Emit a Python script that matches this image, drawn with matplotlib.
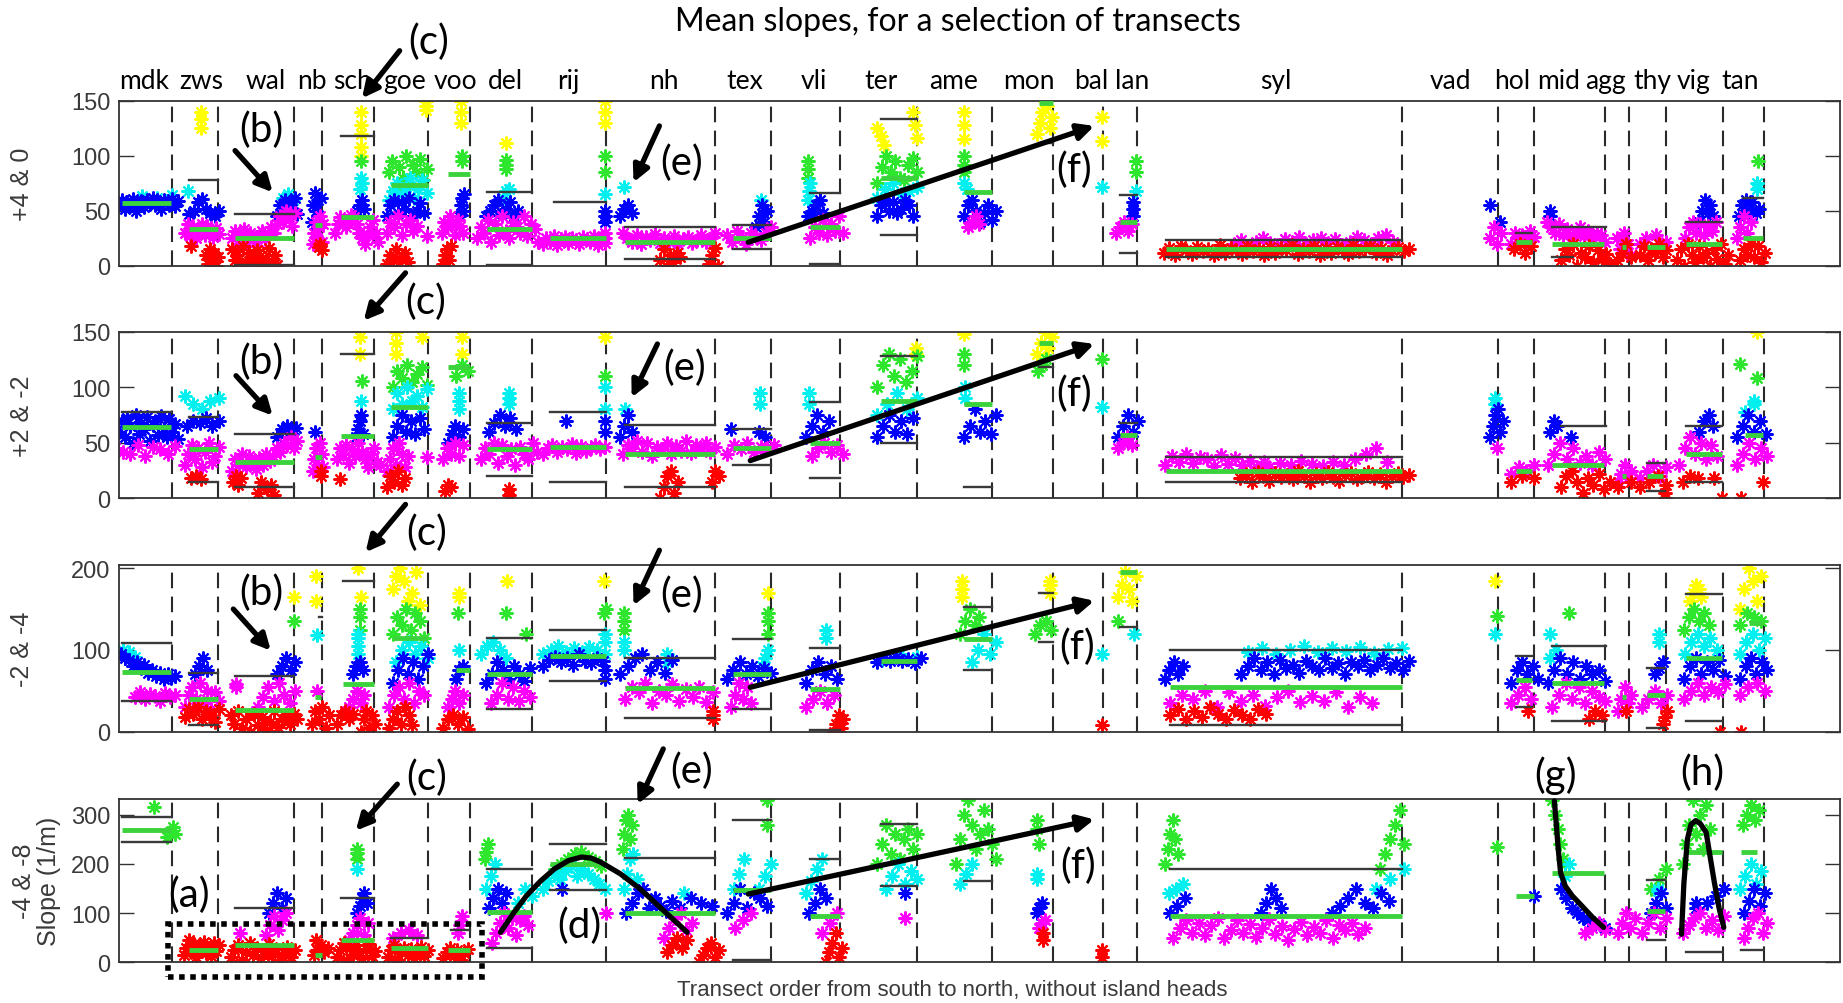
import numpy as np
import matplotlib
matplotlib.use("Agg")
import matplotlib.pyplot as plt
from matplotlib.patches import FancyArrowPatch, Rectangle
from matplotlib.transforms import blended_transform_factory

# ---------------- data ----------------
REGIONS = ['mdk', 'zws', 'wal', 'nb', 'sch', 'goe', 'voo', 'del', 'rij', 'nh', 'tex', 'vli', 'ter',
           'ame', 'mon', 'bal', 'lan', 'syl', 'vad', 'hol', 'mid', 'agg', 'thy', 'vig', 'tan']
REGION_LABEL_T = [21, 70, 125, 164, 199, 243, 287, 329, 383, 464, 533, 592, 649,
                  711, 775, 828, 863, 985, 1134, 1187, 1226, 1266, 1306, 1341, 1381]
BOUNDARIES = [45, 84, 149, 173, 217, 263, 299, 352, 415, 508, 555, 614, 680, 744, 796, 838, 867,
              1093, 1175, 1205, 1266, 1286, 1318, 1366, 1401]
N_TRANSECTS = 1466
PANEL_LABELS = ['+4 & 0', '+2 & -2', '-2 & -4', '-4 & -8']
YMAX = [150, 150, 204, 332]
YTICKS = [[0, 50, 100, 150], [0, 50, 100, 150], [0, 100, 200], [0, 100, 200, 300]]

# (colour, first transect, last transect, slope values)
P1_POINTS = [
    ('c', 20, 45, [63, 62, 64]),
    ('b', 0, 50, [55, 60, 52, 58, 54, 61, 50, 57, 59, 53, 60, 56, 62, 55, 58, 52, 60, 57, 55, 61, 54, 59]),
    ('y', 70, 70, [140, 133, 125]),
    ('c', 59, 59, [68]),
    ('b', 60, 85, [47, 50, 58, 61, 52, 48, 45, 50]),
    ('m', 56, 85, [30, 38, 27, 35, 25, 33, 38, 28, 36, 30, 26, 34, 29]),
    ('r', 61, 61, [18]),
    ('r', 74, 84, [10, 2, 15, 5, 12, 0, 8]),
    ('m', 96, 150, [25, 32, 20, 28, 33, 22, 30, 25, 18, 27, 32, 24, 29, 35, 30, 38, 45, 40, 50, 44, 36, 48]),
    ('r', 96, 135, [15, 5, 10, 0, 18, 3, 12, 7, 2, 14, 9, 0, 6, 16, 3, 10, 1]),
    ('b', 135, 152, [45, 55, 50, 60, 48, 58, 52, 62, 47]),
    ('c', 140, 148, [62, 65, 60]),
    ('b', 164, 172, [40, 55, 66, 50, 60, 45, 62]),
    ('m', 165, 174, [20, 30, 40, 25, 35, 45, 22, 38]),
    ('r', 170, 173, [17, 20, 14]),
    ('m', 184, 221, [30, 38, 44, 40, 35, 42, 46, 44, 38, 30, 25, 20, 28, 35, 42, 30, 22]),
    ('b', 203, 209, [50, 55, 60, 52]),
    ('c', 205, 207, [70, 80, 75]),
    ('g', 206, 206, [95]),
    ('y', 206, 206, [140, 128, 120, 108, 100]),
    ('g', 230, 262, [85, 95, 70, 90, 80, 100, 75, 92, 85, 97, 78, 88]),
    ('c', 230, 262, [60, 68, 75, 65, 72, 80, 62, 70, 78, 66]),
    ('b', 228, 260, [45, 55, 60, 48, 58, 52, 62, 45, 50, 57, 48]),
    ('m', 228, 254, [30, 40, 35, 45, 28, 38, 42, 32, 36]),
    ('r', 228, 246, [2, 10, 5, 15, 0, 8, 12, 3]),
    ('y', 261.6, 261.6, [150, 145, 142]),
    ('m', 262.6, 262.6, [27]),
    ('m', 275, 293, [30, 40, 35, 45, 38, 28, 42, 36, 30]),
    ('r', 276, 283, [2, 10, 15, 5, 18]),
    ('b', 290, 294, [45, 55, 62, 50, 65]),
    ('g', 292, 292, [95, 100]),
    ('y', 291, 291, [150, 140, 130]),
    ('m', 305, 357, [25, 35, 30, 42, 22, 38, 28, 45, 32, 25, 40, 35, 30, 45, 27, 38, 33, 22]),
    ('b', 313, 340, [45, 50, 55, 60, 48, 52, 58, 45, 50]),
    ('c', 327, 332, [62, 68, 70]),
    ('g', 330, 330, [88, 92, 96]),
    ('y', 330, 330, [112]),
    ('m', 361, 414, [20, 25, 22, 27, 19, 24, 26, 21, 25, 23, 20, 26, 24, 22, 27, 19, 25, 21]),
    ('y', 414, 414, [150, 140, 130]),
    ('g', 414, 414, [100, 85]),
    ('c', 414, 414, [65]),
    ('b', 414, 414, [50, 40, 45]),
    ('m', 414, 414, [25, 30]),
    ('c', 430, 430, [72]),
    ('b', 427, 437, [45, 52, 55, 48]),
    ('m', 429, 508, [30, 25, 22, 28, 20, 26, 23, 29, 21, 25, 22, 27, 20, 24, 26, 21, 23, 28, 22, 25, 30]),
    ('r', 461, 478, [5, 15, 0, 10, 3, 12, 8]),
    ('r', 503, 510, [2, 10, 16, 0]),
    ('m', 518, 555, [28, 22, 32, 25, 20, 30, 26, 23, 30, 35]),
    ('b', 543, 552, [35, 45, 55, 40, 50]),
    ('c', 547, 547, [60]),
    ('g', 587, 587, [80, 88, 95]),
    ('c', 587, 589, [60, 68, 75]),
    ('b', 587, 600, [45, 50, 55, 60, 48]),
    ('m', 589, 617, [25, 35, 30, 42, 28, 38, 32, 45, 30]),
    ('y', 646, 652, [125, 118, 110]),
    ('y', 676, 680, [140, 128, 116]),
    ('g', 646, 680, [75, 90, 100, 85, 95, 80, 78, 92, 98, 85]),
    ('c', 646, 680, [62, 70, 75, 65, 68, 72]),
    ('b', 646, 676, [45, 55, 60, 50, 58, 48, 52, 60, 55, 45]),
    ('y', 720, 720, [140, 128, 115]),
    ('g', 720, 720, [100, 92, 85]),
    ('c', 720, 722, [75, 70]),
    ('b', 720, 747, [45, 55, 60, 50, 40, 48, 55, 42, 50]),
    ('m', 723, 733, [35, 40, 45, 38]),
    ('y', 782, 795, [120, 130, 140, 150, 145, 125, 135]),
    ('y', 837, 837, [135, 113]),
    ('c', 837, 837, [72]),
    ('m', 849, 863, [30, 35, 40, 32, 38]),
    ('b', 864, 864, [45, 52, 58]),
    ('c', 866, 866, [68]),
    ('g', 866, 866, [85, 95]),
    ('m', 950, 1085, [20, 23, 18, 22, 25, 21, 19, 24, 22, 26, 20, 23, 25, 21, 24, 19, 22, 26, 23, 20, 25, 28, 22]),
    ('r', 890, 1099, [12, 16, 10, 18, 14, 11, 17, 13, 15, 10, 19, 12, 16, 14, 11, 18, 13, 15, 10, 17, 12, 16, 14,
                      19, 11, 15, 13, 18, 10, 16, 12, 17, 14, 11, 19, 13, 15, 18, 12, 16, 10, 14, 17, 13, 15]),
    ('b', 1168, 1176, [55, 40]),
    ('m', 1168, 1177, [25, 35, 20, 30]),
    ('m', 1186, 1205, [20, 30, 25, 28, 22, 32, 26]),
    ('r', 1188, 1203, [15, 20, 12, 18]),
    ('b', 1219, 1219, [45, 50]),
    ('m', 1216, 1266, [40, 35, 30, 38, 28, 33, 25, 30, 35, 27, 32, 24, 30, 28, 22]),
    ('r', 1228, 1270, [5, 15, 10, 20, 0, 12, 8, 18, 3, 14, 6, 11, 2]),
    ('m', 1276, 1288, [25, 15, 30, 20, 10]),
    ('r', 1276, 1288, [5, 12, 20, 8]),
    ('m', 1296, 1318, [20, 25, 15, 28, 18, 22]),
    ('r', 1296, 1318, [10, 18, 5, 15, 12, 20, 8, 14]),
    ('m', 1334, 1360, [25, 35, 40, 30, 38, 28, 36, 32, 40]),
    ('b', 1346, 1358, [40, 50, 60, 48, 55, 45]),
    ('r', 1327, 1371, [5, 15, 0, 20, 10, 3, 18, 8, 12, 0, 15, 6, 20, 2, 10]),
    ('m', 1378, 1390, [25, 35, 45, 30, 40]),
    ('b', 1380, 1397, [45, 55, 60, 50, 58, 48, 52]),
    ('c', 1395, 1395, [70, 75]),
    ('g', 1396, 1396, [95]),
    ('r', 1381, 1402, [5, 15, 10, 20, 8, 18, 3, 12]),
]
P1_MEANS = [(2.6, 44.6, 57), (59.8, 84.3, 33), (98.5, 148.9, 25), (167, 173, 37), (189.3, 217, 44),
            (231.3, 263.3, 73), (280, 298.6, 83), (313.7, 351.7, 33), (367.5, 414.6, 25), (430.7, 508, 22),
            (523.2, 555.1, 25), (588.8, 614, 35), (649, 680, 80), (720, 743.5, 67), (783.9, 795.6, 148),
            (852.8, 866.9, 40), (891.5, 1093, 15), (1189.6, 1203.5, 22), (1221, 1264.6, 20),
            (1280.3, 1283.8, 17), (1301.2, 1316.9, 17), (1334.4, 1365.8, 20), (1383.2, 1400.7, 25)]
P1_BOUNDS = [(59.8, 84.3, 78), (98.5, 148.9, 47), (98.5, 148.9, 1), (189.3, 217, 118), (313.7, 351.7, 67),
             (313.7, 351.7, 1), (370.9, 414.6, 58), (430.7, 508, 35), (430.7, 508, 6), (523.2, 555.1, 37),
             (523.2, 555.1, 15), (588.8, 614, 66), (588.8, 614, 2), (649, 680, 133), (649, 680, 28),
             (783.9, 795.6, 112), (852.8, 866.9, 64), (852.8, 866.9, 12), (891.5, 1093, 23), (891.5, 1093, 8),
             (1189.6, 1203.5, 30), (1221, 1266.3, 35), (1221, 1238.4, 8), (1334.4, 1365.8, 40),
             (1383.2, 1400.7, 62)]

P2_POINTS = [
    ('b', 0, 50, [60, 70, 55, 72, 65, 50, 75, 58, 68, 62, 73, 52, 66, 70, 57, 74, 63, 55, 71, 60, 67, 53]),
    ('m', -3, 48, [45, 42, 40, 48, 38, 46, 44, 40, 47]),
    ('c', 56, 85, [92, 85, 80, 88, 90]),
    ('b', 58, 85, [65, 70, 68, 72, 65, 70]),
    ('m', 56, 85, [30, 40, 48, 35, 45, 28, 42, 50, 33, 38, 46]),
    ('r', 61, 70, [18, 20, 17]),
    ('r', 97, 104, [15, 20, 12, 18]),
    ('r', 118, 132, [5, 15, 10, 8, 12, 3]),
    ('m', 96, 152, [25, 35, 30, 40, 28, 38, 33, 26, 36, 30, 40, 34, 38, 45, 42, 50, 48, 55, 45, 52]),
    ('b', 135, 151, [55, 62, 65, 58, 63]),
    ('b', 167, 167, [60]),
    ('m', 165, 174, [25, 35, 45, 30, 50, 40, 28]),
    ('r', 172, 172, [20, 25]),
    ('r', 188, 188, [17]),
    ('m', 186, 222, [35, 45, 40, 48, 32, 44, 38, 50, 42, 35, 28, 40, 45, 33, 30]),
    ('b', 202, 208, [55, 62, 70, 75, 58]),
    ('c', 206, 206, [88]),
    ('g', 207, 207, [106]),
    ('y', 205, 205, [145, 130]),
    ('y', 236, 236, [150, 140, 130]),
    ('y', 258, 258, [145]),
    ('g', 233, 262, [100, 115, 108, 120, 105, 112, 118, 102]),
    ('c', 233, 262, [80, 95, 85, 100, 88, 92, 82, 98]),
    ('b', 233, 260, [55, 65, 75, 60, 70, 58, 72, 62]),
    ('m', 228, 246, [25, 35, 45, 30, 50, 40, 28, 38]),
    ('r', 228, 244, [10, 20, 15, 25, 12, 18]),
    ('m', 262.6, 262.6, [37]),
    ('y', 292, 292, [145, 130]),
    ('g', 287, 297, [110, 120, 115]),
    ('c', 290, 290, [80, 88, 95]),
    ('b', 280, 293, [50, 58, 65, 55, 62]),
    ('m', 276, 293, [35, 45, 40, 50, 38, 48]),
    ('r', 278, 283, [7, 12, 10]),
    ('c', 332, 332, [85, 90, 95]),
    ('b', 315, 338, [60, 68, 75, 65, 72, 62]),
    ('m', 308, 356, [35, 45, 40, 50, 32, 48, 38, 44, 30, 46, 40, 35, 50, 42]),
    ('r', 332, 332, [3, 8]),
    ('b', 381, 381, [70]),
    ('m', 361, 414, [40, 45, 48, 42, 46, 44, 49, 41, 47, 43, 45, 48, 44, 46]),
    ('y', 414, 414, [145]),
    ('g', 414, 414, [110]),
    ('c', 414, 414, [100, 80]),
    ('b', 414, 414, [70, 60]),
    ('c', 431, 431, [80]),
    ('b', 427, 437, [55, 65, 75, 60]),
    ('m', 429, 508, [40, 48, 45, 52, 42, 50, 38, 46, 44, 50, 40, 47, 43, 52, 41, 48, 45, 50, 42, 46]),
    ('r', 461, 476, [0, 10, 20, 25, 5, 15]),
    ('r', 505, 511, [15, 25, 20]),
    ('b', 521, 521, [62]),
    ('b', 545, 550, [60, 55]),
    ('c', 546, 546, [85, 95]),
    ('m', 518, 558, [40, 48, 44, 50, 42, 46, 45, 48]),
    ('c', 588, 588, [85, 95]),
    ('b', 585, 605, [55, 65, 75, 60, 70]),
    ('m', 590, 617, [38, 45, 50, 42, 48, 40]),
    ('g', 646, 680, [100, 120, 130, 110, 125, 105, 115, 128]),
    ('c', 646, 680, [75, 85, 95, 80, 90]),
    ('b', 646, 676, [55, 65, 75, 60, 70, 58, 72]),
    ('y', 679, 679, [130, 135]),
    ('y', 720, 720, [148]),
    ('g', 720, 720, [120, 130]),
    ('c', 721, 721, [90, 100]),
    ('b', 720, 747, [55, 65, 80, 60, 70, 58, 75]),
    ('y', 782, 795, [130, 140, 150, 135, 145]),
    ('g', 783, 790, [115, 120, 125]),
    ('g', 837, 837, [125]),
    ('c', 837, 837, [82]),
    ('b', 851, 868, [55, 65, 75, 60, 70]),
    ('m', 851, 863, [45, 50, 55, 48]),
    ('m', 891, 975, [30, 38, 33, 40, 32, 37, 35, 29, 39, 31, 36, 30, 34, 28, 33]),
    ('m', 980, 1080, [28, 32, 30, 34, 31, 29, 33, 30, 35, 40, 45, 33]),
    ('r', 955, 1099, [18, 22, 15, 24, 20, 16, 23, 19, 21, 17, 25, 20, 15, 22, 18, 24, 19, 16, 21, 23, 17, 20,
                      24, 18, 22, 15, 20, 23, 19, 21]),
    ('c', 1172, 1172, [85, 90]),
    ('b', 1168, 1179, [55, 65, 75, 80, 60, 70]),
    ('m', 1174, 1174, [45]),
    ('m', 1186, 1205, [22, 28, 25, 30]),
    ('r', 1186, 1205, [15, 20, 18]),
    ('b', 1219, 1225, [60, 70, 65]),
    ('b', 1237, 1237, [55]),
    ('m', 1217, 1266, [30, 40, 50, 35, 45, 32, 38, 30, 42, 35]),
    ('r', 1228, 1270, [10, 20, 25, 15, 5, 18, 12, 22, 8, 15]),
    ('m', 1277, 1288, [15, 22, 30, 18, 25]),
    ('r', 1277, 1288, [10, 15]),
    ('m', 1296, 1318, [18, 25, 30, 20, 28]),
    ('r', 1296, 1318, [10, 15, 20, 12]),
    ('r', 1317, 1317, [0, 5]),
    ('m', 1329, 1361, [30, 45, 55, 40, 50, 35, 48, 38]),
    ('b', 1346, 1358, [60, 70, 75, 65]),
    ('r', 1332, 1345, [15, 20, 18]),
    ('r', 1359, 1359, [18]),
    ('r', 1365.8, 1365.8, [0]),
    ('r', 1381.5, 1381.5, [0]),
    ('y', 1395, 1395, [150]),
    ('g', 1381, 1381, [121]),
    ('g', 1395, 1395, [108]),
    ('c', 1393, 1393, [88, 85]),
    ('c', 1385, 1385, [78]),
    ('b', 1378, 1403, [55, 65, 75, 60, 70, 58]),
    ('m', 1378, 1404, [30, 40, 50, 35, 45, 38]),
    ('r', 1400, 1400, [15]),
]
P2_MEANS = [(2.6, 44.6, 64), (59.8, 84.3, 44), (98.5, 148.9, 33), (167, 173, 37), (189.3, 217, 56),
            (231.3, 263.3, 82), (280, 298.6, 118), (313.7, 351.7, 44), (367.5, 414.6, 46), (430.7, 508, 40),
            (523.2, 555.1, 45), (588.8, 614, 50), (649, 680, 88), (720, 743.5, 85), (783.9, 795.6, 140),
            (852.8, 866.9, 57), (891.5, 1093, 25), (1189.6, 1203.5, 25), (1221, 1264.6, 30),
            (1280.3, 1283.8, 20), (1301.2, 1315.2, 20), (1334.4, 1365.8, 40), (1385, 1400.7, 57)]
P2_BOUNDS = [(2.6, 44.6, 78), (59.8, 84.3, 73), (59.8, 84.3, 15), (98.5, 148.9, 58), (98.5, 148.9, 10),
             (189.3, 217, 130), (313.7, 351.7, 68), (313.7, 351.7, 20), (367.5, 414.6, 78), (367.5, 414.6, 15),
             (430.7, 508, 66), (430.7, 508, 10), (523.2, 555.1, 62), (523.2, 555.1, 30), (588.8, 614, 87),
             (588.8, 614, 18), (649, 680, 128), (649, 680, 50), (720, 743.5, 10), (783.9, 795.6, 118),
             (852.8, 866.9, 68), (891.5, 1093, 37), (891.5, 1093, 15), (1228, 1266.3, 65),
             (1301.2, 1316.9, 32), (1301.2, 1316.9, 7), (1334.4, 1365.8, 65), (1334.4, 1365.8, 15)]

P3_POINTS = [
    ('c', -2, 14, [95, 100, 98, 92]),
    ('b', 2, 48, [95, 90, 88, 80, 85, 78, 82, 72, 76, 68, 72, 65, 70, 66, 68]),
    ('m', 14, 48, [42, 48, 40, 46, 44, 38, 47, 42, 45]),
    ('b', 65, 75, [70, 80, 90, 75]),
    ('m', 56, 85, [30, 45, 55, 40, 60, 35, 50, 28, 48, 38]),
    ('r', 56, 85, [18, 28, 22, 30, 15, 25, 20, 12, 28]),
    ('m', 100, 100, [58, 55]),
    ('m', 118, 150, [30, 42, 55, 38, 60, 45, 35, 50]),
    ('r', 95, 152, [20, 10, 25, 5, 15, 0, 22, 8, 18, 2, 12, 25, 6, 16, 20, 10, 22, 15]),
    ('b', 135, 150, [70, 80, 90, 75, 85]),
    ('y', 149, 149, [165]),
    ('y', 168, 168, [190, 160]),
    ('g', 149, 149, [135]),
    ('c', 169, 169, [118]),
    ('m', 169, 169, [50]),
    ('r', 164, 179, [10, 25, 15, 30, 5, 20]),
    ('r', 186, 199, [10, 20, 25, 15, 22]),
    ('r', 206, 218, [0, 15, 25, 5, 20, 10]),
    ('m', 196, 209, [30, 40, 50, 35, 45]),
    ('b', 199, 208, [70, 80, 85, 75]),
    ('c', 204, 204, [95, 105, 115, 120]),
    ('g', 205, 205, [125, 140, 150]),
    ('y', 204, 204, [200]),
    ('y', 206, 206, [165]),
    ('y', 233, 256, [175, 190, 200, 185, 160, 170, 195, 155]),
    ('g', 233, 260, [120, 140, 130, 150, 125, 145, 135, 115]),
    ('c', 236, 263, [85, 100, 110, 95, 105, 90]),
    ('b', 233, 263, [60, 75, 90, 70, 85, 65, 80, 95]),
    ('m', 230, 260, [30, 45, 55, 40, 60, 35, 50, 45]),
    ('r', 230, 250, [5, 15, 25, 10, 30, 20, 8]),
    ('y', 290, 290, [170, 165]),
    ('g', 289, 289, [145]),
    ('c', 290, 290, [100]),
    ('b', 287, 293, [65, 75, 80]),
    ('m', 280, 293, [30, 40, 50, 35, 45]),
    ('r', 276, 297, [5, 15, 20, 10, 18, 3]),
    ('y', 330.5, 330.5, [185]),
    ('g', 330, 330, [145]),
    ('g', 347, 347, [120]),
    ('c', 308, 330, [95, 105, 110, 100, 90]),
    ('b', 313, 350, [60, 70, 85, 75, 65, 80, 70, 62, 78]),
    ('m', 317, 350, [35, 45, 60, 40, 55, 38, 50, 42]),
    ('c', 361, 414, [95, 100, 105, 98, 102, 97, 104, 100, 95]),
    ('b', 361, 412, [80, 88, 92, 85, 90, 82, 95, 87, 84, 90, 86]),
    ('g', 413, 415, [145, 150]),
    ('y', 413, 413, [185]),
    ('c', 414, 414, [110, 120]),
    ('b', 414, 414, [65, 75]),
    ('g', 430, 430, [125, 135, 145]),
    ('c', 430, 430, [100, 110]),
    ('b', 427, 471, [70, 80, 90, 95, 75, 85, 72, 88]),
    ('c', 467, 467, [85, 95]),
    ('m', 431, 506, [40, 55, 48, 60, 35, 50, 45, 58, 38, 52, 42, 55, 36, 48]),
    ('r', 506, 506, [15, 20, 25]),
    ('b', 518, 555, [65, 75, 85, 70, 80, 68, 78, 72]),
    ('m', 521, 538, [30, 45, 60, 40, 55, 35]),
    ('c', 548, 553, [80, 90, 100]),
    ('g', 553, 553, [120, 135, 145]),
    ('y', 553, 553, [170]),
    ('c', 602, 602, [115, 125]),
    ('b', 585, 612, [60, 75, 85, 70, 80, 65]),
    ('m', 585, 609, [30, 40, 50, 35, 45]),
    ('r', 609, 617, [0, 10, 20, 5, 15]),
    ('c', 650, 680, [88, 95, 92]),
    ('b', 646, 683, [85, 90, 87, 92, 86, 89, 84, 90]),
    ('y', 718, 718, [165, 175, 185]),
    ('g', 716, 733, [120, 135, 150, 130, 140]),
    ('c', 727, 747, [85, 100, 120, 95, 110]),
    ('y', 793, 793, [170, 180, 185]),
    ('g', 780, 794, [120, 130, 135, 125]),
    ('r', 837.7, 837.7, [8]),
    ('c', 837.7, 837.7, [95]),
    ('g', 851, 851, [135]),
    ('c', 865, 865, [120]),
    ('y', 851, 866, [165, 180, 195, 175, 160, 190]),
    ('b', 891, 906, [65, 75, 85, 70, 80]),
    ('b', 956, 1099, [70, 80, 90, 75, 85, 70, 88, 78, 82, 72, 86, 80, 75, 90, 78, 84, 70, 85, 80, 88, 76, 82,
                      90, 78, 84, 75, 86]),
    ('c', 962, 1093, [98, 103, 95, 100, 105, 97, 102, 99, 104, 96, 101, 103]),
    ('m', 895, 1067, [35, 45, 40, 50, 30, 48, 38, 45, 32, 42, 50, 36, 44, 38, 48, 30, 42, 35]),
    ('r', 895, 977, [20, 28, 15, 25, 18, 30, 22, 16, 26, 20, 15, 28, 22]),
    ('y', 1172, 1172, [185]),
    ('g', 1174, 1174, [142]),
    ('c', 1172, 1172, [120]),
    ('b', 1186, 1209, [60, 75, 85, 70, 80, 65]),
    ('m', 1186, 1203, [35, 45, 55, 40]),
    ('r', 1200, 1200, [25]),
    ('c', 1219, 1219, [120]),
    ('g', 1235, 1235, [145]),
    ('c', 1219, 1224, [90, 100]),
    ('b', 1217, 1266, [60, 75, 90, 70, 85, 65, 80, 70, 75, 62]),
    ('m', 1221, 1266, [30, 45, 60, 40, 55, 35, 50, 42, 38]),
    ('r', 1252, 1263, [15, 25, 20]),
    ('m', 1277, 1288, [25, 40, 55, 35, 45]),
    ('r', 1284, 1284, [25]),
    ('c', 1312, 1312, [110, 120]),
    ('b', 1308, 1315, [70, 78, 85]),
    ('m', 1297, 1319, [30, 40, 50, 35, 45]),
    ('r', 1315, 1319, [10, 18, 25]),
    ('y', 1338, 1348, [160, 170, 180, 175, 165]),
    ('g', 1333, 1354, [125, 140, 150, 135, 145, 130]),
    ('c', 1334, 1361, [95, 110, 120, 105, 115, 100]),
    ('b', 1333, 1368, [65, 80, 90, 70, 85, 75, 88, 68]),
    ('m', 1333, 1368, [40, 50, 60, 45, 55, 48, 58]),
    ('r', 1364, 1364, [0]),
    ('r', 1381.5, 1381.5, [0]),
    ('y', 1381, 1399, [150, 175, 200, 185, 160, 190]),
    ('g', 1381, 1399, [130, 145, 140, 135]),
    ('c', 1381, 1402, [95, 110, 120, 100, 115]),
    ('b', 1381, 1404, [65, 80, 90, 70, 85, 75]),
    ('m', 1381, 1402, [45, 55, 60, 50]),
]
P3_MEANS = [(2.6, 44.6, 73), (59.8, 84.3, 40), (98.5, 148.9, 26), (167, 172, 42), (191, 217, 58),
            (233, 263.3, 115), (286.8, 298.6, 75), (313.7, 351.7, 70), (367.5, 414.6, 93), (430.7, 508, 54),
            (523.2, 555.1, 70), (588.8, 614, 52), (649, 680, 87), (720, 743.5, 113), (852.8, 866.9, 195),
            (894.9, 1093, 55), (1189.6, 1203.5, 63), (1221, 1264.6, 60), (1280.3, 1283.8, 42),
            (1301.2, 1316.9, 45), (1334.4, 1365.8, 90), (1388.4, 1400.7, 133)]
P3_BOUNDS = [(2.6, 44.6, 108), (2.6, 44.6, 38), (59.8, 84.3, 72), (59.8, 84.3, 8), (98.5, 148.9, 68),
             (170, 173, 140), (191, 217, 185), (313.7, 351.7, 115), (313.7, 351.7, 28), (367.5, 414.6, 125),
             (367.5, 414.6, 62), (430.7, 508, 90), (430.7, 508, 17), (523.2, 555.1, 113), (523.2, 555.1, 28),
             (588.8, 614, 102), (588.8, 614, 2), (720, 743.5, 152), (720, 743.5, 75), (783.9, 795.6, 170),
             (783.9, 795.6, 110), (852.8, 866.9, 128), (894.9, 1093, 100), (894.9, 1093, 8),
             (1189.6, 1203.5, 93), (1189.6, 1203.5, 30), (1221, 1266.3, 105), (1221, 1266.3, 13),
             (1301.2, 1316.9, 78), (1301.2, 1316.9, 5), (1334.4, 1365.8, 168), (1334.4, 1365.8, 13)]

P4_POINTS = [
    ('g', 30, 30, [316]),
    ('g', 41, 48, [255, 265, 275, 260]),
    ('r', 55, 85, [15, 30, 45, 20, 38, 10, 35, 25, 42, 18, 30, 12, 40, 22, 35]),
    ('r', 95, 150, [10, 25, 35, 5, 20, 40, 15, 30, 8, 22, 38, 12, 28, 5, 18, 32, 10, 25]),
    ('m', 103, 103, [60]),
    ('m', 125, 142, [55, 75, 95, 65, 85, 100]),
    ('b', 128, 142, [100, 120, 140, 110, 130]),
    ('r', 166, 178, [15, 25, 35, 20, 30]),
    ('r', 168, 168, [45]),
    ('r', 186, 218, [10, 25, 40, 5, 30, 15, 35, 20, 8, 28, 38, 12, 22]),
    ('m', 196, 212, [45, 60, 75, 90, 55, 80]),
    ('b', 203, 211, [100, 115, 130, 140, 120]),
    ('c', 202.7, 202.7, [190]),
    ('g', 202.7, 202.7, [210, 222, 230]),
    ('r', 229, 263, [10, 25, 35, 5, 20, 30, 15, 28, 8, 22, 32, 12, 25]),
    ('m', 233, 254, [50, 60, 65, 55]),
    ('r', 276, 297, [8, 20, 30, 12, 25, 5, 18, 28]),
    ('m', 289, 292, [60, 75, 95]),
    ('g', 312, 314, [210, 225, 240]),
    ('c', 313, 320, [150, 175, 200]),
    ('b', 315, 330, [110, 130, 150, 120, 140]),
    ('m', 318, 348, [40, 60, 80, 100, 70, 90, 55, 85, 95, 75]),
    ('c', 340, 352, [120, 150, 135]),
    ('c', 361, 414, [150, 165, 180, 170, 185, 195, 175, 190, 180, 170, 160, 150]),
    ('g', 371, 411, [190, 200, 210, 220, 225, 215, 205, 195]),
    ('b', 377.6, 377.6, [150]),
    ('m', 414.6, 414.6, [100]),
    ('g', 429, 437, [230, 260, 290, 300, 250, 280]),
    ('c', 430, 441, [150, 180, 210, 220, 170]),
    ('b', 432, 471, [100, 120, 140, 150, 110, 130, 115, 105, 125]),
    ('m', 464, 488, [50, 70, 90, 100, 65, 80]),
    ('r', 467, 484, [20, 35, 50, 30, 45]),
    ('c', 481, 481, [140]),
    ('b', 478, 505, [110, 130, 120, 115]),
    ('r', 494, 511, [0, 15, 30, 40, 10, 25]),
    ('c', 524, 532, [150, 180, 210]),
    ('b', 518, 552, [100, 120, 150, 110, 140, 130, 115]),
    ('m', 525, 538, [70, 85, 100]),
    ('c', 545, 555, [150, 175, 200]),
    ('g', 552, 552, [280, 330]),
    ('c', 585, 599, [140, 165, 190, 210]),
    ('b', 588, 602, [100, 120, 150, 130]),
    ('m', 599, 612, [60, 80, 100]),
    ('r', 602, 616, [0, 20, 40, 60, 10, 30]),
    ('g', 646, 680, [200, 240, 280, 220, 260, 210, 250, 270, 230, 260]),
    ('c', 653, 680, [150, 175, 200, 160, 185, 170]),
    ('b', 669.5, 669.5, [140]),
    ('m', 669.5, 669.5, [90]),
    ('g', 713, 747, [200, 250, 300, 330, 280, 230, 260, 310, 270, 240, 210]),
    ('c', 716, 727, [160, 180, 200]),
    ('g', 782, 782, [270, 290]),
    ('g', 784, 784, [240]),
    ('c', 782, 782, [170, 180]),
    ('b', 782, 786, [100, 110, 120]),
    ('m', 784, 789, [70, 80, 85]),
    ('r', 787, 787, [45, 60]),
    ('r', 837.7, 837.7, [10, 25]),
    ('g', 891, 902, [200, 230, 260, 290, 250, 220]),
    ('c', 894, 906, [140, 150, 160]),
    ('b', 895, 908, [100, 115, 130]),
    ('m', 898, 1061, [50, 70, 85, 60, 80, 55, 75, 90, 50, 65, 85, 60, 78, 52, 70, 88, 58, 74, 45, 68, 82, 55,
                      72, 60, 85, 50, 75, 65, 80, 58, 70]),
    ('b', 973, 990, [100, 120, 150, 130, 110]),
    ('b', 1033, 1082, [100, 115, 130, 150, 120, 110, 140, 125]),
    ('c', 1071, 1095, [150, 170, 190]),
    ('g', 1074, 1095, [190, 220, 250, 280, 310, 240]),
    ('g', 1174, 1174, [235]),
    ('b', 1205, 1205, [135]),
    ('g', 1221, 1232, [330, 300, 270, 240, 210, 200]),
    ('c', 1228, 1235, [150, 175, 200]),
    ('b', 1228, 1266, [150, 130, 110, 100, 90, 85, 80, 75, 70]),
    ('m', 1249, 1266, [60, 70, 80, 65]),
    ('m', 1277, 1291, [60, 80, 100, 70, 90]),
    ('g', 1305, 1318, [150, 170, 190]),
    ('c', 1311, 1311, [145, 150]),
    ('b', 1305, 1318, [100, 120, 140, 110]),
    ('m', 1297, 1318, [60, 80, 100, 70, 90]),
    ('g', 1332, 1355, [200, 240, 280, 330, 260, 300, 230, 320, 270]),
    ('b', 1343, 1343, [110, 120]),
    ('b', 1353, 1367, [120, 135, 150]),
    ('m', 1332, 1367, [60, 75, 90, 100, 70, 85, 65, 95]),
    ('g', 1383, 1397, [280, 300, 320, 290, 310]),
    ('c', 1381, 1399, [150, 175, 200, 160, 185]),
    ('b', 1384, 1402, [100, 125, 150, 115, 140]),
    ('m', 1384, 1404, [50, 70, 90, 100, 60, 80]),
]
P4_MEANS = [(2.6, 44.6, 268), (59.8, 84.3, 25), (98.5, 148.9, 35), (167, 173, 15), (189.3, 217, 45),
            (231.3, 263.3, 30), (280, 298.6, 25), (313.7, 351.7, 103), (367.5, 414.6, 200), (430.7, 508, 100),
            (523.2, 555.1, 148), (588.8, 614, 95), (894.9, 1093, 95), (1189.6, 1205.3, 135),
            (1221, 1264.6, 182), (1301.2, 1316.9, 105), (1334.4, 1365.8, 225), (1381.5, 1395, 225)]
P4_BOUNDS = [(2.6, 44.6, 295), (2.6, 44.6, 245), (98.5, 148.9, 110), (189.3, 217, 130), (231.3, 263.3, 50),
             (283, 298.6, 65), (313.7, 351.7, 190), (313.7, 351.7, 30), (367.5, 414.6, 240), (367.5, 414.6, 148),
             (430.7, 508, 212), (523.2, 555.1, 290), (523.2, 555.1, 5), (588.8, 614, 210), (649, 680, 282),
             (649, 680, 155), (720, 743.5, 165), (894.9, 1093, 190), (1301.2, 1316.9, 168),
             (1301.2, 1316.9, 45), (1334.4, 1365.8, 20), (1381.5, 1400.7, 25)]

POINTS = [P1_POINTS, P2_POINTS, P3_POINTS, P4_POINTS]
MEANS = [P1_MEANS, P2_MEANS, P3_MEANS, P4_MEANS]
BOUNDS = [P1_BOUNDS, P2_BOUNDS, P3_BOUNDS, P4_BOUNDS]

# hand-drawn curves of the annotations (panel 4, data units)
CURVE_D = ([325, 336, 347, 359, 371, 383, 394, 402, 410, 427, 444, 464, 484],
           [61, 100, 135, 165, 190, 207, 214, 212, 204, 180, 149, 105, 61])
CURVE_G = ([1222.7, 1224, 1226, 1228, 1232, 1238, 1246, 1255, 1264.6],
           [328, 290, 230, 182, 155, 135, 115, 92, 71])
CURVE_H = ([1331, 1333, 1336, 1339, 1343, 1347, 1352, 1355, 1359, 1363, 1367],
           [57, 160, 250, 280, 288, 282, 264, 220, 162, 110, 71])

# ---------------- styling ----------------
COLORS = {'y': '#ffff00', 'g': '#2ee62e', 'c': '#00f0f0', 'b': '#0000ff', 'm': '#ff00ff', 'r': '#ff0000'}
ORDER = ['y', 'g', 'c', 'b', 'm', 'r']
MEAN_COLOR = '#3cd23c'
BOUND_COLOR = '#3a3a3a'
AXC = '#333333'
FONT_CAL = ['Lato', 'DejaVu Sans']
FONT_ML = ['Liberation Sans', 'DejaVu Sans']

W, H = 1843, 1004
S = 1843 / 1568.0
PANEL_TOP_PX = [101.7, 332.7, 566.0, 800.0]
PANEL_BOT_PX = [266.7, 499.3, 732.7, 963.3]
AX_L, AX_R = 119, 1840

fig = plt.figure(figsize=(W / 100, H / 100), dpi=100)
fig.patch.set_facecolor('white')


def F(x, y):
    """shrunk-reference pixel -> figure fraction"""
    return (x * S / W, 1 - y * S / H)


axes = []
for i in range(4):
    top, bot = PANEL_TOP_PX[i], PANEL_BOT_PX[i]
    ax = fig.add_axes([AX_L / W, 1 - bot / H, (AX_R - AX_L) / W, (bot - top) / H])
    axes.append(ax)
    ax.set_xlim(0, N_TRANSECTS)
    ax.set_ylim(0, YMAX[i])
    for b in BOUNDARIES:
        ax.axvline(b, color='#2a2a2a', lw=1.5, ls=(0, (7.5, 4)), zorder=1)
    for col in ORDER:
        for (cc, t0, t1, vals) in POINTS[i]:
            if cc != col:
                continue
            x = np.linspace(t0, t1, len(vals))
            ax.plot(x, vals, ls='none', marker=(8, 2, 0), ms=10, mew=1.5, color=COLORS[col], zorder=2)
    for (t0, t1, y) in BOUNDS[i]:
        ax.plot([t0, t1], [y, y], color=BOUND_COLOR, lw=1.7, zorder=3)
    for (t0, t1, y) in MEANS[i]:
        ax.plot([t0, t1], [y, y], color=MEAN_COLOR, lw=3.5, zorder=4, solid_capstyle='butt')
    ax.set_xticks([])
    ax.set_yticks(YTICKS[i])
    ax.tick_params(axis='y', direction='in', length=11, width=1.0, right=True, labelsize=17,
                   color=AXC, labelcolor='#3a3a3a', pad=6)
    for lab in ax.get_yticklabels():
        lab.set_family(FONT_ML)
    for sp in ax.spines.values():
        sp.set_color(AXC)
        sp.set_linewidth(1.3)

# y labels
centers = [(t + b) / 2 for t, b in zip(PANEL_TOP_PX, PANEL_BOT_PX)]
for i in range(3):
    fig.text(22 / W, 1 - centers[i] / H, PANEL_LABELS[i], rotation=90, ha='center', va='center',
             fontsize=18, family=FONT_ML, color='#3a3a3a')
fig.text(24 / W, 1 - centers[3] / H, PANEL_LABELS[3], rotation=90, ha='center', va='center',
         fontsize=18, family=FONT_ML, color='#3a3a3a')
fig.text(49 / W, 1 - centers[3] / H, 'Slope (1/m)', rotation=90, ha='center', va='center',
         fontsize=18, family=FONT_ML, color='#3a3a3a')

# x label
fig.text(810 * S / W, 1 - 991 / H, 'Transect order from south to north, without island heads',
         ha='center', va='center', fontsize=16, family=FONT_ML, color='#3a3a3a')

# title
fig.text(815 * S / W, 1 - 22 / H, 'Mean slopes, for a selection of transects', ha='center', va='center',
         fontsize=23, family=FONT_CAL, color='black')

# region labels
trans = blended_transform_factory(axes[0].transData, axes[0].transAxes)
lab_y = (PANEL_BOT_PX[0] - 82) / (PANEL_BOT_PX[0] - PANEL_TOP_PX[0])
for name, t in zip(REGIONS, REGION_LABEL_T):
    axes[0].text(t, lab_y, name, transform=trans, ha='center', va='center', fontsize=19,
                 family=FONT_CAL, color='black', clip_on=False)

# annotation curves
for cx, cy in (CURVE_D, CURVE_G, CURVE_H):
    axes[3].plot(cx, cy, color='black', lw=3.8, solid_capstyle='round', solid_joinstyle='round',
                 clip_on=False, zorder=10)

# annotation letters (reference pixel positions, shrunk scale)
LETTERS = [('(c)', 365, 36), ('(b)', 222, 111), ('(e)', 580, 139), ('(f)', 914, 145),
           ('(c)', 362, 257), ('(b)', 222, 308), ('(e)', 582, 313), ('(f)', 914, 335),
           ('(c)', 363, 454), ('(b)', 222, 505), ('(e)', 580, 506), ('(f)', 916, 551),
           ('(c)', 363, 662), ('(e)', 588, 656), ('(f)', 917, 737),
           ('(a)', 161, 762), ('(d)', 493, 788), ('(g)', 1323, 660), ('(h)', 1448, 658)]
for s, x, y in LETTERS:
    fx, fy = F(x, y)
    fig.text(fx, fy, s, ha='center', va='center', fontsize=29, family=FONT_CAL, color='black', zorder=20)

ARROWS = [((340, 44), (308, 84.5)), ((200, 129), (232, 164.5)), ((561, 108), (539, 156)),
          ((636.6, 207), (931, 108)),
          ((345, 233), (309.4, 273.7)), ((200.8, 320.5), (232, 354.5)), ((559.3, 293.5), (537.4, 339)),
          ((638.3, 392.7), (931, 293.5)),
          ((345, 430), (311, 470.7)), ((198.5, 519), (230.4, 554.4)), ((561, 469), (539, 516)),
          ((638.3, 585.6), (931, 512)),
          ((338, 668), (302.7, 707.6)), ((564.3, 638), (542.5, 685)), ((636.6, 761.5), (931, 698))]
for (a, b) in ARROWS:
    arr = FancyArrowPatch(F(*a), F(*b), transform=fig.transFigure, arrowstyle='-|>',
                          mutation_scale=24, lw=3.8, color='black', shrinkA=0, shrinkB=0, zorder=20)
    fig.add_artist(arr)

# dotted box (a)
x0, y0 = F(143, 832)
x1, y1 = F(410.4, 787)
fig.add_artist(Rectangle((x0, y0), x1 - x0, y1 - y0, transform=fig.transFigure, fill=False,
                         edgecolor='black', lw=4, ls=(0, (1, 1)), zorder=20))

fig.savefig('out.png', dpi=100, facecolor='white')
